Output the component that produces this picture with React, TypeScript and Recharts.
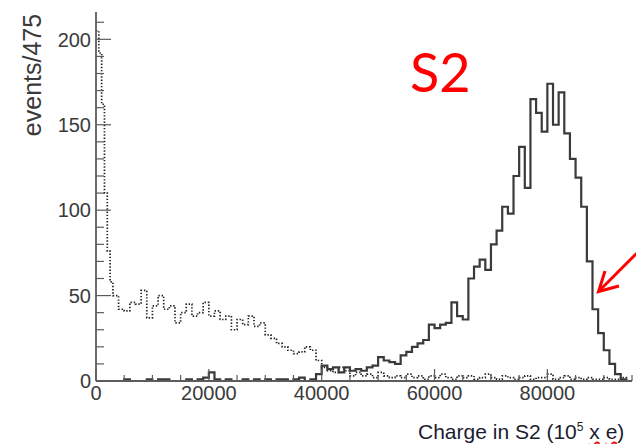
import { LineChart, Line, XAxis, YAxis } from "recharts";

// histogram bins (lower edge, charge units) and counts
const solidBins = [
  0, 1000, 2000, 3000, 4000, 5000, 6000, 7000, 8000, 9000,
  10000, 11000, 12000, 13000, 14000, 15000, 16000, 17000, 18000, 19000,
  20000, 21000, 22000, 23000, 24000, 25000, 26000, 27000, 28000, 29000,
  30000, 31000, 32000, 33000, 34000, 35000, 36000, 37000, 38000, 39000,
  40000, 41000, 42000, 43000, 44000, 45000, 46000, 47000, 48000, 49000,
  50000, 51000, 52000, 53000, 54000, 55000, 56000, 57000, 58000, 59000,
  60000, 61000, 62000, 63000, 64000, 65000, 66000, 67000, 68000, 69000,
  70000, 71000, 72000, 73000, 74000, 75000, 76000, 77000, 78000, 79000,
  80000, 81000, 82000, 83000, 84000, 85000, 86000, 87000, 88000, 89000,
  90000, 91000, 92000, 93000, 94000, 95000,
];
const solidCounts = [
  0, 0, 0, 0, 0, 1, 0, 0, 0, 1,
  0, 1, 1, 0, 0, 0, 1, 0, 1, 2,
  5, 1, 0, 1, 0, 0, 1, 0, 1, 0,
  1, 0, 1, 1, 0, 1, 2, 0, 1, 4,
  9, 7, 8, 5, 8, 6, 7, 6, 8, 9,
  14, 12, 11, 10, 15, 17, 20, 22, 24, 33,
  31, 33, 34, 46, 38, 36, 60, 67, 71, 65,
  80, 88, 102, 98, 120, 137, 113, 165, 157, 146,
  174, 150, 169, 145, 130, 119, 102, 70, 42, 28,
  18, 10, 4, 1, 0, 0,
];

const dottedBins = [
  0, 500, 1000, 1500, 2000, 2500,
  3000, 4000, 5000, 6000, 7000, 8000, 9000,
  10000, 11000, 12000, 13000, 14000, 15000, 16000, 17000, 18000, 19000,
  20000, 21000, 22000, 23000, 24000, 25000, 26000, 27000, 28000, 29000,
  30000, 31000, 32000, 33000, 34000, 35000, 36000, 37000, 38000, 39000,
  40000, 41000, 42000, 43000, 44000, 45000, 46000, 47000, 48000, 49000,
  50000, 51000, 52000, 53000, 54000, 55000, 56000, 57000, 58000, 59000,
  60000, 61000, 62000, 63000, 64000, 65000, 66000, 67000, 68000, 69000,
  70000, 71000, 72000, 73000, 74000, 75000, 76000, 77000, 78000, 79000,
  80000, 81000, 82000, 83000, 84000, 85000, 86000, 87000, 88000, 89000,
  90000, 91000, 92000, 93000, 94000, 95000,
];
const dottedCounts = [
  205, 192, 162, 110, 76, 58,
  50, 42, 41, 46, 45, 53, 37,
  44, 50, 42, 44, 34, 40, 45, 38, 40, 46,
  38, 41, 36, 38, 30, 36, 33, 38, 32, 34,
  27, 25, 22, 20, 18, 16, 17, 20, 18, 12,
  8, 6, 5, 8, 6, 3, 5, 3, 4, 2,
  5, 3, 2, 3, 2, 4, 2, 3, 1, 3,
  2, 4, 2, 1, 3, 2, 3, 1, 2, 4,
  2, 1, 3, 2, 1, 2, 3, 1, 2, 2,
  4, 1, 2, 3, 1, 2, 1, 2, 1, 1,
  2, 1, 1, 2, 0, 0,
];

const xMajor = [0, 20000, 40000, 60000, 80000];
const xTicks = [
  0, 5000, 10000, 15000, 20000, 25000, 30000, 35000, 40000, 45000,
  50000, 55000, 60000, 65000, 70000, 75000, 80000, 85000, 90000, 95000,
];
const yMajor = [0, 50, 100, 150, 200];
const yTicks = [
  0, 10, 20, 30, 40, 50, 60, 70, 80, 90, 100,
  110, 120, 130, 140, 150, 160, 170, 180, 190, 200, 210,
];

const solidData = solidBins.map((x, i) => ({ x, n: solidCounts[i] }));
const dottedData = dottedBins.map((x, i) => ({ x, n: dottedCounts[i] }));

const FRAME = "#5c5c5c";
const TXT = "#3a3a3a";
const FONT = "'Liberation Sans', Arial, sans-serif";

function BottomTick(p: any) {
  const v = p.payload.value;
  const major = xMajor.includes(v);
  return (
    <g>
      <line x1={p.x} x2={p.x} y1={p.y} y2={p.y - (major ? 12 : 6)} stroke={FRAME} strokeWidth={1.2} />
      {major && (
        <text x={p.x} y={p.y + 19} textAnchor="middle" fontSize={20} fill={TXT} fontFamily={FONT}>
          {v}
        </text>
      )}
    </g>
  );
}

function TopTick(p: any) {
  const major = xMajor.includes(p.payload.value);
  return <line x1={p.x} x2={p.x} y1={p.y} y2={p.y + (major ? 11 : 5)} stroke={FRAME} strokeWidth={1.2} />;
}

function LeftTick(p: any) {
  const v = p.payload.value;
  const major = yMajor.includes(v);
  return (
    <g>
      <line x1={p.x} x2={p.x + (major ? 15 : 8)} y1={p.y} y2={p.y} stroke={FRAME} strokeWidth={1.2} />
      {major && (
        <text x={p.x - 5} y={p.y} dy="0.36em" textAnchor="end" fontSize={20} fill={TXT} fontFamily={FONT}>
          {v}
        </text>
      )}
    </g>
  );
}

function RightTick(p: any) {
  const major = yMajor.includes(p.payload.value);
  return <line x1={p.x} x2={p.x - (major ? 16 : 9)} y1={p.y} y2={p.y} stroke={FRAME} strokeWidth={1.2} />;
}

export default function App() {
  return (
    <div style={{ position: "fixed", left: 0, top: 0, width: 636, height: 444, background: "#fff", overflow: "hidden" }}>
      <LineChart width={636} height={444} margin={{ top: 12, right: 4, left: 0, bottom: 0 }}>
        <XAxis
          xAxisId="b"
          dataKey="x"
          type="number"
          domain={[0, 95000]}
          allowDataOverflow
          ticks={xTicks}
          interval={0}
          tick={BottomTick}
          tickLine={false}
          tickSize={0}
          tickMargin={0}
          height={63}
          axisLine={{ stroke: FRAME, strokeWidth: 1.8 }}
        />
        <XAxis
          xAxisId="t"
          orientation="top"
          type="number"
          domain={[0, 95000]}
          allowDataOverflow
          ticks={xTicks}
          interval={0}
          tick={TopTick}
          tickLine={false}
          tickSize={0}
          tickMargin={0}
          height={0}
          axisLine={{ stroke: FRAME, strokeWidth: 1.8 }}
        />
        <YAxis
          yAxisId="l"
          type="number"
          domain={[0, 216]}
          allowDataOverflow
          ticks={yTicks}
          interval={0}
          tick={LeftTick}
          tickLine={false}
          tickSize={0}
          tickMargin={0}
          width={96}
          axisLine={{ stroke: FRAME, strokeWidth: 1.8 }}
        />
        <YAxis
          yAxisId="r"
          orientation="right"
          type="number"
          domain={[0, 216]}
          allowDataOverflow
          ticks={yTicks}
          interval={0}
          tick={RightTick}
          tickLine={false}
          tickSize={0}
          tickMargin={0}
          width={0}
          axisLine={{ stroke: FRAME, strokeWidth: 1.8 }}
        />
        <Line
          xAxisId="b"
          yAxisId="l"
          data={dottedData}
          dataKey="n"
          type="stepAfter"
          stroke="#222"
          strokeWidth={1.7}
          strokeDasharray="1.4 1.8"
          dot={false}
          isAnimationActive={false}
        />
        <Line
          xAxisId="b"
          yAxisId="l"
          data={solidData}
          dataKey="n"
          type="stepAfter"
          stroke="#3a3a3a"
          strokeWidth={2.2}
          dot={false}
          isAnimationActive={false}
        />
      </LineChart>

      <svg width={636} height={444} style={{ position: "absolute", left: 0, top: 0, pointerEvents: "none" }}>
        <text
          transform="translate(41 75) rotate(-90)"
          textAnchor="middle"
          fontSize={25}
          fill={TXT}
          fontFamily={FONT}
        >
          events/475
        </text>
        <text x={410} y={92} fontSize={54} fill="#ff0000" fontFamily="Lato, 'Open Sans', sans-serif">
          S2
        </text>
        <line x1={640} y1={250} x2={599} y2={291} stroke="#ff0000" strokeWidth={3} />
        <polyline points="605,271 598.5,291.5 619,286" fill="none" stroke="#ff0000" strokeWidth={3} />
      </svg>

      <div
        style={{
          position: "absolute",
          left: 418,
          top: 417,
          fontSize: 21,
          lineHeight: "21px",
          fontFamily: FONT,
          color: "#1c1c30",
          whiteSpace: "nowrap",
        }}
      >
        Charge in S2 (10
        <span style={{ fontSize: 12, verticalAlign: 8 }}>5</span>{" "}
        <span style={{ textDecoration: "underline wavy #e02020" }}>x</span>{" "}
        <span style={{ textDecoration: "underline wavy #e02020" }}>e</span>)
      </div>
    </div>
  );
}
